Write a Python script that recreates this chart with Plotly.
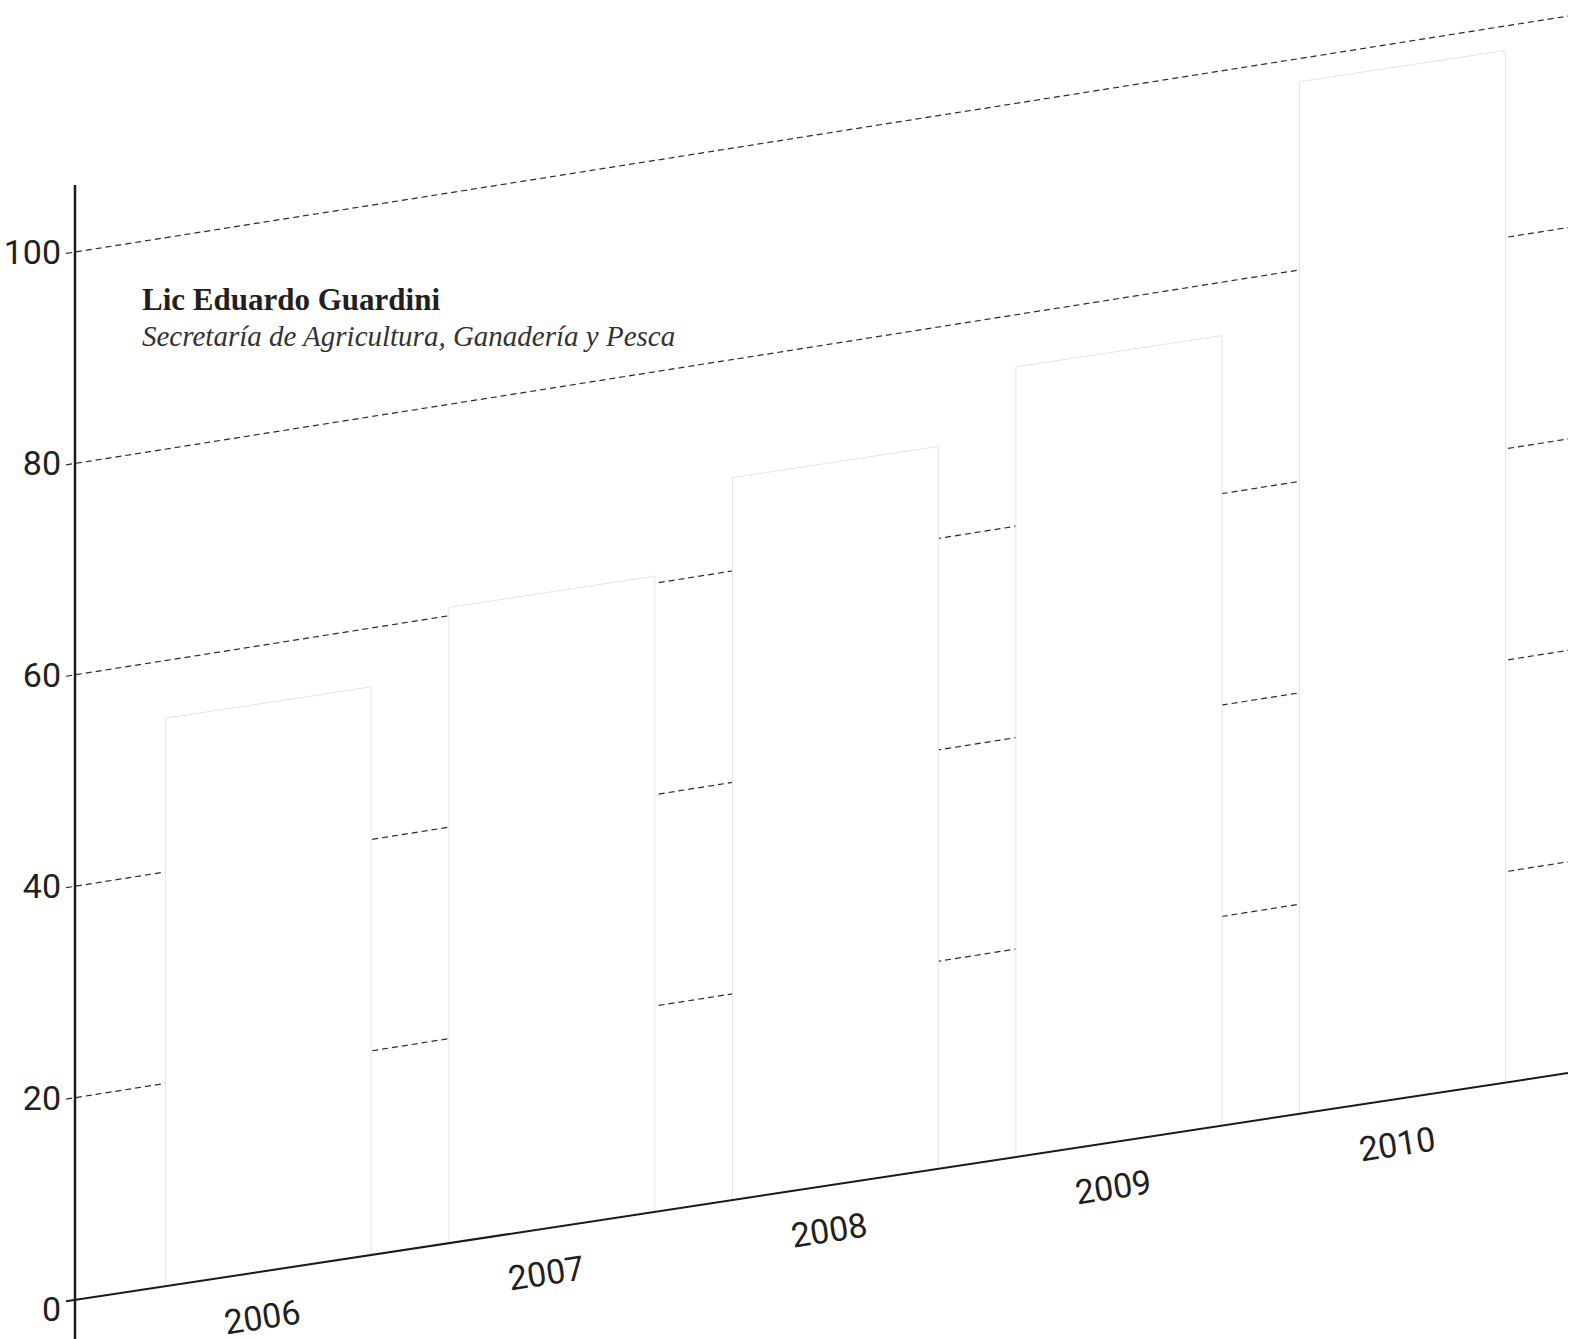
import math
import plotly.graph_objects as go

# ---- data ----
years = ["2006", "2007", "2008", "2009", "2010"]
values = [54.6, 61.0, 69.2, 75.6, 98.5]
grid_values = [20, 40, 60, 80, 100]
tick_values = [0, 20, 40, 60, 80, 100]
author = "Lic Eduardo Guardini"
affiliation = "Secretaría de Agricultura, Ganadería y Pesca"

# ---- layout constants ----
W, H = 1578, 1339
ML, MR = 66, 10          # plot area starts a little left of the axis
AXIS_PX = 75
PX_PER_UNIT = 10.571
Y_ZERO_PX = 1309.1
BASE_OFFSET_PX = 9.1     # x-axis line sits slightly above true zero
GRID_SLOPE = 0.158       # pixel rise per pixel to the right
BAR_SLOPE = 0.152
STEP_PX = 283.55         # category band step
BAR_W_PX = 206
FIRST_CENTER_PX = 268.3
AXIS_TOP_PX = 185

TXT = "#231f20"
SANS = "Liberation Sans Narrow, Arial Narrow, Roboto, sans-serif"
SERIF = "Liberation Serif, Times New Roman, serif"

plot_w = W - ML - MR
x_left = (ML - FIRST_CENTER_PX) / STEP_PX
x_ax = (AXIS_PX - FIRST_CENTER_PX) / STEP_PX
x_right = (W - MR - FIRST_CENTER_PX) / STEP_PX
ymin = -(H - Y_ZERO_PX) / PX_PER_UNIT
ymax = ymin + H / PX_PER_UNIT
g_shear = GRID_SLOPE * STEP_PX / PX_PER_UNIT
b_shear = BAR_SLOPE * STEP_PX / PX_PER_UNIT
base_val = BASE_OFFSET_PX / PX_PER_UNIT
hw = BAR_W_PX / STEP_PX / 2


def skg(x, v):
    return v + g_shear * (x - x_ax)


def skb(x, v):
    return v + b_shear * (x - x_ax)


fig = go.Figure()

# gridlines (behind bars)
for g in grid_values:
    fig.add_trace(go.Scatter(
        x=[x_left, x_right], y=[skg(x_left, g), skg(x_right, g)], mode="lines",
        line=dict(color="#2a2a2a", width=1.2, dash="6px,4px"),
        hoverinfo="skip", showlegend=False))

# bars (white, faint outline) as skewed polygons
for i, (yr, v) in enumerate(zip(years, values)):
    xa, xb = i - hw, i + hw
    fig.add_trace(go.Scatter(
        x=[xa, xa, xb, xb, xa],
        y=[skb(xa, base_val), skb(xa, v), skb(xb, v), skb(xb, base_val), skb(xa, base_val)],
        mode="lines", fill="toself", fillcolor="white",
        line=dict(color="#e8e4e0", width=1),
        name=yr, hoverinfo="skip", showlegend=False))

# baseline (x axis line)
fig.add_trace(go.Scatter(
    x=[x_left, x_right], y=[skb(x_left, base_val), skb(x_right, base_val)], mode="lines",
    line=dict(color="#1a1a1a", width=2), hoverinfo="skip", showlegend=False))

# y axis line
axis_top_val = (Y_ZERO_PX - AXIS_TOP_PX) / PX_PER_UNIT
fig.add_trace(go.Scatter(
    x=[x_ax, x_ax], y=[ymin - 2, axis_top_val], mode="lines",
    line=dict(color="#1a1a1a", width=2.5), hoverinfo="skip", showlegend=False))

# category labels
angle = -math.degrees(math.atan(BAR_SLOPE))
for i, yr in enumerate(years):
    xc = i - 6 / STEP_PX
    fig.add_annotation(
        x=xc, y=skb(xc, base_val) - 45 / PX_PER_UNIT, xref="x", yref="y",
        text=yr, showarrow=False, textangle=angle,
        xanchor="center", yanchor="middle",
        font=dict(family=SANS, size=34, color=TXT))


def px_to_paper(px, py):
    return (px - ML) / plot_w, 1 - py / H


ax, ay = px_to_paper(140, 299)
fig.add_annotation(x=ax, y=ay, xref="paper", yref="paper", text="<b>" + author + "</b>",
                   showarrow=False, xanchor="left", yanchor="middle",
                   font=dict(family=SERIF, size=31, color=TXT))
ax, ay = px_to_paper(140, 336)
fig.add_annotation(x=ax, y=ay, xref="paper", yref="paper", text="<i>" + affiliation + "</i>",
                   showarrow=False, xanchor="left", yanchor="middle",
                   font=dict(family=SERIF, size=29, color="#333333"))

fig.update_layout(
    width=W, height=H,
    margin=dict(l=ML, r=MR, t=0, b=0, pad=0),
    paper_bgcolor="white", plot_bgcolor="white",
    xaxis=dict(range=[x_left, x_right], visible=False, fixedrange=True, automargin=False),
    yaxis=dict(range=[ymin, ymax], tickvals=tick_values,
               ticktext=[str(t) for t in tick_values],
               showgrid=False, zeroline=False, showline=False, automargin=False,
               ticks="", ticklabelstandoff=4,
               tickfont=dict(family=SANS, size=34, color=TXT)),
    showlegend=False,
)

fig.write_html("out.html")
